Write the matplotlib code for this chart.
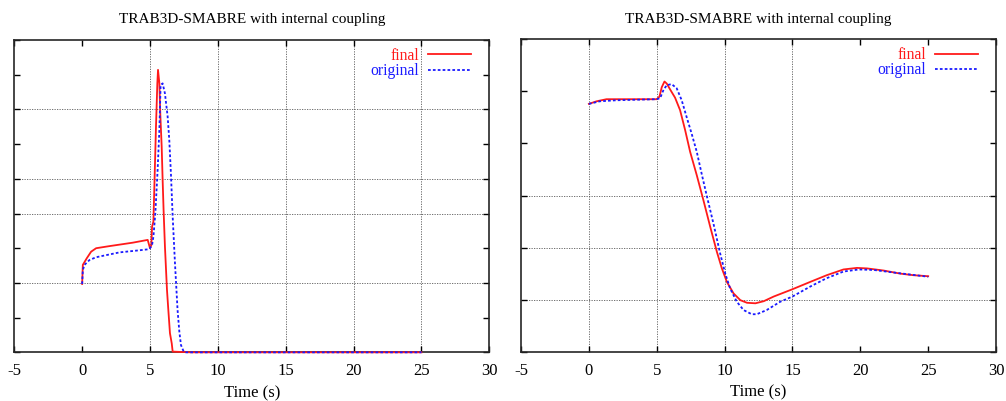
import numpy as np
import matplotlib
matplotlib.use('Agg')
import matplotlib.pyplot as plt

plt.rcParams['font.family'] = ['Liberation Serif', 'DejaVu Serif']

titulo = 'TRAB3D-SMABRE with internal coupling'
etiquetas = ['final', 'original']
xticks = [-5, 0, 5, 10, 15, 20, 25, 30]

# Panel izquierdo (unidades arbitrarias, eje y sin etiquetas)
t_izq_final = [0.0, 0.05, 0.34, 0.66, 1.03, 2.0, 3.73, 4.83, 4.9, 5.0, 5.1, 5.15,
               5.25, 5.32, 5.44, 5.54, 5.59, 5.69, 5.76, 5.86, 5.93, 6.0, 6.1,
               6.25, 6.35, 6.47, 6.6, 6.67, 8.0, 25.0]
y_izq_final = [1.97, 2.52, 2.71, 2.90, 3.00, 3.06, 3.16, 3.24, 3.14, 3.00, 3.09, 3.62,
               3.77, 4.77, 6.50, 7.75, 8.14, 7.75, 6.84, 5.93, 4.97, 4.10, 3.05,
               1.80, 1.22, 0.55, 0.26, 0.02, 0.0, 0.0]

t_izq_orig = [0.0, 0.05, 0.17, 0.54, 1.03, 1.76, 2.75, 3.97, 4.9, 5.0, 5.15, 5.25,
              5.39, 5.56, 5.69, 5.78, 5.93, 6.1, 6.3, 6.42, 6.54, 6.67, 6.84,
              7.03, 7.16, 7.28, 7.45, 7.57, 25.0]
y_izq_orig = [1.97, 2.37, 2.52, 2.66, 2.74, 2.80, 2.88, 2.93, 2.97, 3.00, 3.09, 3.33,
              4.00, 5.25, 6.41, 7.70, 7.75, 7.46, 6.79, 6.12, 5.16, 3.91, 2.56,
              1.22, 0.60, 0.21, 0.05, 0.0, 0.0]

# Panel derecho
t_der_final = [0.0, 0.57, 1.3, 3.27, 5.0, 5.2, 5.37, 5.57, 5.74, 5.98, 6.35, 6.72,
               7.09, 7.46, 7.95, 8.44, 8.94, 9.43, 9.8, 10.17, 10.66, 11.16, 11.65,
               12.27, 12.88, 13.62, 15.0, 16.3, 17.53, 18.76, 19.75, 20.5, 21.7,
               22.95, 23.9, 25.0]
y_der_final = [4.76, 4.81, 4.85, 4.85, 4.85, 4.90, 5.08, 5.19, 5.15, 5.04, 4.88, 4.64,
               4.26, 3.84, 3.39, 2.91, 2.40, 1.92, 1.60, 1.34, 1.12, 0.99, 0.94,
               0.93, 0.97, 1.06, 1.20, 1.34, 1.47, 1.58, 1.61, 1.60, 1.56,
               1.50, 1.47, 1.45]

t_der_orig = [0.0, 0.81, 2.04, 5.0, 5.25, 5.5, 5.74, 6.1, 6.47, 6.84, 7.2, 7.57,
              7.95, 8.3, 8.7, 9.18, 9.67, 10.05, 10.4, 10.9, 11.4, 12.0, 12.37,
              13.1, 14.1, 15.0, 16.3, 17.5, 18.76, 19.9, 21.0, 22.5, 25.0]
y_der_orig = [4.76, 4.81, 4.83, 4.85, 4.87, 5.03, 5.12, 5.14, 5.06, 4.83, 4.51, 4.19,
              3.84, 3.43, 2.98, 2.46, 1.89, 1.50, 1.22, 0.96, 0.80, 0.72, 0.72,
              0.80, 0.96, 1.06, 1.25, 1.41, 1.54, 1.58, 1.57, 1.52, 1.44]

rojo = '#ff1a1a'
azul = '#1a1aff'


def panel(ax, t_f, y_f, t_o, y_o, ymax, grid_x, grid_y):
    ax.set_xlim(-5, 30)
    ax.set_ylim(0, ymax)
    # rejilla punteada solo en algunas posiciones
    for gx in grid_x:
        ax.axvline(gx, color='0.35', lw=0.6, ls=(0, (1.5, 1.5)), zorder=1)
    for gy in grid_y:
        ax.axhline(gy, color='0.35', lw=0.6, ls=(0, (1.5, 1.5)), zorder=1)
    ax.plot(t_o, y_o, color=azul, lw=1.3, ls=(0, (1.5, 1.2)),
            label=etiquetas[1], zorder=4, clip_on=False)
    ax.plot(t_f, y_f, color=rojo, lw=1.3, label=etiquetas[0], zorder=3,
            clip_on=False)
    ax.set_xticks(xticks)
    ax.set_xticklabels([str(v) for v in xticks], fontsize=12)
    ax.set_yticks(np.arange(0, ymax + 1))
    ax.set_yticklabels([])
    ax.tick_params(direction='in', length=4, width=1.0, top=True, right=True, pad=8)
    for s in ax.spines.values():
        s.set_linewidth(1.2)
        s.set_color('0.15')
    ax.set_title(titulo, fontsize=11, pad=12)
    ax.set_xlabel('Time (s)', fontsize=12, labelpad=4)
    h, l = ax.get_legend_handles_labels()
    leg = ax.legend(h[::-1], l[::-1], loc='upper right', frameon=False,
                    markerfirst=False, fontsize=11.3, handlelength=2.7,
                    handletextpad=0.6, labelspacing=-0.05, borderpad=0,
                    borderaxespad=0, bbox_to_anchor=(0.961, 0.975))
    for txt, c in zip(leg.get_texts(), [rojo, azul]):
        txt.set_color(c)


fig = plt.figure(figsize=(10.06, 4.01), dpi=100)
ax1 = fig.add_axes([0.0142, 0.1214, 0.4722, 0.7788])
ax2 = fig.add_axes([0.5179, 0.1229, 0.4722, 0.7790])

panel(ax1, t_izq_final, y_izq_final, t_izq_orig, y_izq_orig, 9,
      [5, 10, 15, 20, 25], [2, 4, 5, 7])
panel(ax2, t_der_final, y_der_final, t_der_orig, y_der_orig, 6,
      [0, 5, 10, 15], [1, 2, 3])

fig.savefig('out.png', dpi=100)
